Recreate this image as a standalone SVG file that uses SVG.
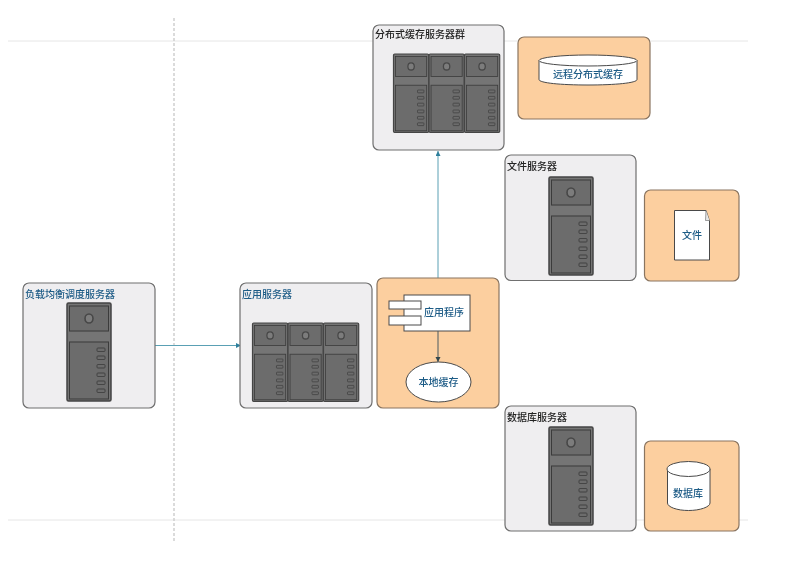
<svg xmlns="http://www.w3.org/2000/svg" width="789" height="563" viewBox="0 0 789 563">
  <style>
    text { font-family: "Noto Sans CJK SC", "Noto Sans", sans-serif; font-size: 10px; font-weight: 500; }
    .title { fill: #222; }
    .titleb { fill: #1d5b86; }
    .lab { fill: #1d5b86; text-anchor: middle; }
    .srv { fill: #efeef0; stroke: #6f6f6f; stroke-width: 1.2; }
    .org { fill: #fccf9f; stroke: #8a7560; stroke-width: 1.2; }
    .wh { fill: #fff; stroke: #4a4a4a; stroke-width: 1; }
    .guide { fill: none; stroke: #e6e6e6; stroke-width: 1; }
    .guidev { fill: none; stroke: #cfcfcf; stroke-width: 1.5; stroke-dasharray: 3 2; }
    .conn { fill: none; stroke: #5aa0b4; stroke-width: 1; }
    .conn2 { fill: none; stroke: #4a5a60; stroke-width: 1; }
    .case { fill: #757575; stroke: #444; stroke-width: 1.5; }
    .panel { fill: #6c6c6c; stroke: #3a3a3a; stroke-width: 1; }
    .led { fill: #6c6c6c; stroke: #3f3f3f; stroke-width: .9; }
    .knob { fill: #7c7c7c; stroke: #474747; stroke-width: 1.6; }
  </style>
  <defs>
    <filter id="soft" x="0" y="0" width="100%" height="100%"><feGaussianBlur stdDeviation="0.35"/></filter>
    <marker id="a1" markerWidth="6" markerHeight="6" refX="5" refY="2.5" orient="auto"><path d="M0 0L5 2.5L0 5z" fill="#2f7f9c"/></marker>
    <marker id="a2" markerWidth="6" markerHeight="6" refX="5" refY="2.5" orient="auto"><path d="M0 0L5 2.5L0 5z" fill="#33464e"/></marker>
    <g id="tower">
      <rect class="case" x="0" y="0" width="44" height="98" rx="1.5"/>
      <rect class="panel" x="2.5" y="3" width="39" height="25"/>
      <rect class="panel" x="2.5" y="39" width="39" height="57"/>
      <ellipse class="knob" cx="22" cy="15.5" rx="4" ry="4.5"/>
      <rect class="led" x="30" y="45" width="8" height="3.500" rx=".8"/>
      <rect class="led" x="30" y="53" width="8" height="3.500" rx=".8"/>
      <rect class="led" x="30" y="61.500" width="8" height="3.500" rx=".8"/>
      <rect class="led" x="30" y="70" width="8" height="3.500" rx=".8"/>
      <rect class="led" x="30" y="78" width="8" height="3.500" rx=".8"/>
      <rect class="led" x="30" y="86" width="8" height="3.500" rx=".8"/>
    </g>
  </defs>
  <rect width="789" height="563" fill="#fff"/>
  <g filter="url(#soft)">
  <g id="guides">
    <path class="guide" d="M8 41H748M8 520H748"/>
    <path class="guidev" d="M174 18V541"/>
  </g>
  <g id="connectors">
    <path class="conn" d="M155 345.500H241" marker-end="url(#a1)"/>
    <path class="conn" d="M438 279V151" marker-end="url(#a1)"/>
  </g>
  <g id="lb-server">
    <rect class="srv" x="23" y="283" width="132" height="125" rx="6"/>
    <text class="titleb" x="25" y="298">负载均衡调度服务器</text>
    <use href="#tower" x="67" y="303"/>
  </g>
  <g id="app-server">
    <rect class="srv" x="240" y="283" width="132" height="125" rx="6"/>
    <text class="titleb" x="242" y="298">应用服务器</text>
    <use href="#tower" transform="translate(252.500 323) scale(.8 .8)"/>
    <use href="#tower" transform="translate(288 323) scale(.8 .8)"/>
    <use href="#tower" transform="translate(323.500 323) scale(.8 .8)"/>
  </g>
  <g id="app-host">
    <rect class="org" x="377" y="278" width="122" height="130" rx="6"/>
  </g>
  <g id="app-program">
    <rect class="wh" x="404" y="295" width="66" height="36"/>
    <rect class="wh" x="389" y="301" width="32" height="8"/>
    <rect class="wh" x="389" y="316" width="32" height="9"/>
    <text class="lab" x="444" y="316">应用程序</text>
  </g>
  <g id="local-cache">
    <ellipse class="wh" cx="438.500" cy="382" rx="32.500" ry="20"/>
    <text class="lab" x="438.500" y="385.500">本地缓存</text>
  </g>
  <path class="conn2" d="M438 331V362" marker-end="url(#a2)"/>
  <g id="cache-cluster">
    <rect class="srv" x="373" y="25" width="131" height="125" rx="6"/>
    <text class="title" x="375" y="38">分布式缓存服务器群</text>
    <use href="#tower" transform="translate(393.500 54) scale(.8 .8)"/>
    <use href="#tower" transform="translate(429 54) scale(.8 .8)"/>
    <use href="#tower" transform="translate(464.500 54) scale(.8 .8)"/>
  </g>
  <g id="remote-cache">
    <rect class="org" x="518" y="37" width="132" height="82" rx="6"/>
    <path class="wh" d="M539 60.500V79.500C539 83 561 85 588 85S637 83 637 79.500V60.500"/>
    <ellipse class="wh" cx="588" cy="60.500" rx="49" ry="5.500"/>
    <text class="lab" x="588" y="78">远程分布式缓存</text>
  </g>
  <g id="file-server">
    <rect class="srv" x="505" y="155" width="131" height="125.500" rx="6"/>
    <text class="title" x="507" y="170">文件服务器</text>
    <use href="#tower" x="549" y="177"/>
  </g>
  <g id="file-host">
    <rect class="org" x="644.500" y="190" width="94.500" height="91" rx="6"/>
    <path class="wh" d="M674.500 210.500H706L709.500 221V260H674.500Z"/>
    <path d="M706 210.500L705.500 220.500H709.500" fill="#e8e8e8" stroke="#777" stroke-width=".7"/>
    <text class="lab" x="692" y="238.500">文件</text>
  </g>
  <g id="db-server">
    <rect class="srv" x="505" y="406" width="131" height="125" rx="6"/>
    <text class="title" x="507" y="421">数据库服务器</text>
    <use href="#tower" x="549" y="427"/>
  </g>
  <g id="db-host">
    <rect class="org" x="644.500" y="441" width="94.500" height="90" rx="6"/>
    <path class="wh" d="M667.500 469V503C667.500 507 677 510.500 688.500 510.500S710 507 710 503V469"/>
    <ellipse class="wh" cx="688.500" cy="469" rx="21.500" ry="7.500"/>
    <text class="lab" x="688" y="497">数据库</text>
  </g>
  </g>
</svg>
